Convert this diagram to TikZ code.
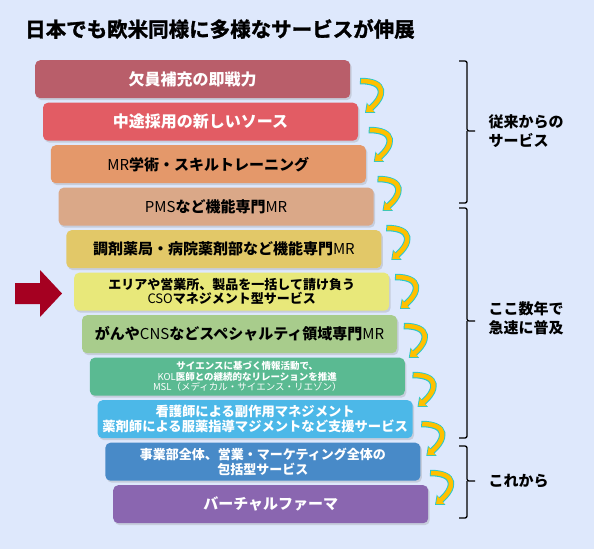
\documentclass[tikz,border=0pt]{standalone}
\usepackage{fontspec}
\setmainfont{Noto Sans CJK JP}
\newfontfamily\heavyjp{Noto Sans CJK JP}[BoldFont={* Bold},BoldFeatures={FakeBold=1.5}]
\usepackage{tikz}
\usetikzlibrary{arrows.meta,calc,shadows}
\definecolor{bgblue}{RGB}{222,232,252}
\definecolor{pointred}{RGB}{165,0,33}
\definecolor{turnyellow}{RGB}{255,192,0}
\definecolor{turncyan}{RGB}{40,200,205}
\definecolor{svcA}{RGB}{185,94,106}
\definecolor{svcB}{RGB}{226,92,100}
\definecolor{svcC}{RGB}{228,152,106}
\definecolor{svcD}{RGB}{218,168,136}
\definecolor{svcE}{RGB}{226,200,104}
\definecolor{svcF}{RGB}{232,232,122}
\definecolor{svcG}{RGB}{168,204,140}
\definecolor{svcH}{RGB}{90,186,146}
\definecolor{svcI}{RGB}{76,184,232}
\definecolor{svcJ}{RGB}{72,138,200}
\definecolor{svcK}{RGB}{138,102,176}
\newcommand\reg[1]{{\mdseries #1}}
\tikzset{svcbox/.style={rectangle,rounded corners=5pt,minimum width=315pt,minimum height=38pt,
 inner sep=1pt,align=center,anchor=north west,
 drop shadow={opacity=.25,shadow xshift=1.5pt,shadow yshift=-2pt}},
 turnout/.style={turncyan,line width=6.5pt,-{Triangle[length=8pt,width=13pt]}},
 turnin/.style={turnyellow,line width=4.5pt,shorten <=1pt,shorten >=1.2pt,-{Triangle[length=6.5pt,width=10pt]}},
 bracket/.style={line width=1.3pt,rounded corners=2pt},
 grouplabel/.style={anchor=west,align=left,font=\bfseries\fontsize{15}{19}\selectfont}}

\begin{document}
\begin{tikzpicture}[x=1pt,y=-1pt]
\fill[bgblue] (0,0) rectangle (594,549);
\useasboundingbox (0,0) rectangle (594,549);
\node[anchor=west,font=\heavyjp\bfseries\fontsize{20.5}{24}\selectfont,inner sep=0pt] (title) at (25,29) {日本でも欧米同様に多様なサービスが伸展};
\foreach \i/\fc/\tc/\fs/\ls/\txt in {
 1/svcA/white/16/18/{欠員補充の即戦力},
 2/svcB/white/16/18/{中途採用の新しいソース},
 3/svcC/black/15/18/{\reg{MR}学術・スキルトレーニング},
 4/svcD/black/15/18/{\reg{PMS}など機能専門\reg{MR}},
 5/svcE/black/15/18/{調剤薬局・病院薬剤部など機能専門\reg{MR}},
 6/svcF/black/13/14/{エリアや営業所、製品を一括して請け負う\\\reg{CSO}マネジメント型サービス},
 7/svcG/black/15/18/{がんや\reg{CNS}などスペシャルティ領域専門\reg{MR}},
 8/svcH/white/9.5/10.5/{サイエンスに基づく情報活動で、\\\reg{KOL}医師との継続的なリレーションを推進\\\reg{MSL（メディカル・サイエンス・リエゾン）}},
 9/svcI/white/13.3/14.5/{看護師による副作用マネジメント\\薬剤師による服薬指導マジメントなど支援サービス},
 10/svcJ/white/13/14.5/{事業部全体、営業・マーケティング全体の\\包括型サービス},
 11/svcK/white/15/18/{バーチャルファーマ}} {
\node[svcbox,fill=\fc,text=\tc,font=\bfseries\fontsize{\fs}{\ls}\selectfont] (b\i) at ({35+7.8*(\i-1)},{60+42.5*(\i-1)}) {\txt};
}
\foreach \k in {0,...,8} {
\coordinate (a\k) at ({360+8.75*\k},{81+49*\k});
\coordinate (z\k) at ($(a\k)+(5,32)$);
\draw[turnout] (a\k) .. controls +(27,0) and +(20,-17) .. (z\k);
\draw[turnin] (a\k) .. controls +(27,0) and +(20,-17) .. (z\k);
}
\fill[pointred] (15,283) -- (40,283) -- (40,270) -- (62,293.5) -- (40,317) -- (40,304) -- (15,304) -- cycle;
\coordinate (t1) at (475,131);
\coordinate (t2) at (475,321);
\coordinate (t3) at (475,481);
\draw[bracket] (459,61) -| (467,131) -- (t1);
\draw[bracket] (467,131) |- (459,203);
\draw[bracket] (459,208) -| (467,321) -- (t2);
\draw[bracket] (467,321) |- (459,438);
\draw[bracket] (459,446) -| (467,481) -- (t3);
\draw[bracket] (467,481) |- (459,518);
\node[grouplabel] (g1) at ($(t1)+(10,0)$) {従来からの\\サービス};
\node[grouplabel] (g2) at ($(t2)+(10,-3)$) {ここ数年で\\急速に普及};
\node[grouplabel] (g3) at ($(t3)+(10,0)$) {これから};
\end{tikzpicture}
\end{document}
